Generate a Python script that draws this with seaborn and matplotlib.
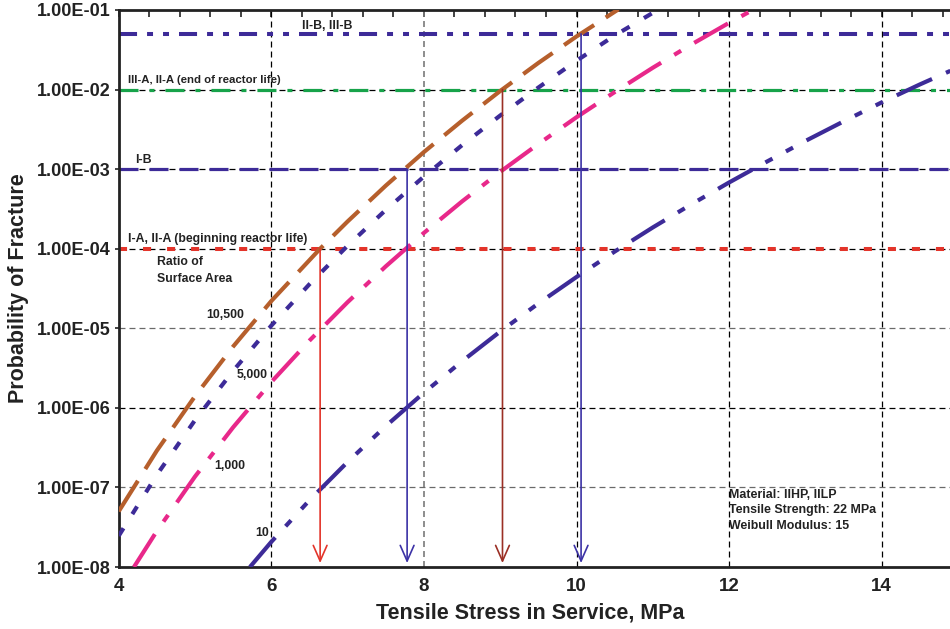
import matplotlib
matplotlib.use("Agg")
import matplotlib.pyplot as plt
import seaborn as sns
import pandas as pd
from matplotlib.ticker import FixedLocator, MultipleLocator, NullLocator, FixedFormatter

# ---------------- data ----------------
stress_10500 = [4.0, 4.5, 5.0, 5.5, 6.0, 6.64, 7.0, 7.5, 8.0, 8.5, 9.0, 9.5, 10.0, 10.55]
prob_10500 = [5.0e-8, 2.9e-7, 1.4e-6, 5.9e-6, 2.2e-5, 1.0e-4, 2.2e-4, 6.2e-4, 1.64e-3,
              4.06e-3, 9.6e-3, 2.16e-2, 4.65e-2, 1.02e-1]

stress_5000 = [4.0, 4.5, 5.0, 5.5, 6.0, 6.5, 7.0, 7.5, 8.0, 8.5, 9.0, 9.5, 10.0, 10.5, 11.1]
prob_5000 = [2.46e-8, 1.44e-7, 7.0e-7, 2.92e-6, 1.08e-5, 3.58e-5, 1.09e-4, 3.07e-4, 8.07e-4,
             2.0e-3, 4.72e-3, 1.06e-2, 2.30e-2, 4.78e-2, 1.05e-1]

stress_1000 = [4.2, 4.5, 5.0, 5.5, 6.0, 6.5, 7.0, 7.5, 8.0, 8.5, 9.0, 9.5, 10.0, 10.5,
               11.0, 11.5, 12.0, 12.35]
prob_1000 = [1.0e-8, 2.83e-8, 1.37e-7, 5.7e-7, 2.11e-6, 7.0e-6, 2.13e-5, 6.0e-5, 1.58e-4,
             3.93e-4, 9.25e-4, 2.07e-3, 4.49e-3, 9.3e-3, 1.88e-2, 3.66e-2, 6.9e-2, 1.05e-1]

stress_10 = [5.72, 6.0, 6.5, 7.0, 7.5, 8.0, 8.5, 9.0, 9.5, 10.0, 10.5, 11.0, 11.5, 12.0,
             12.5, 13.0, 13.5, 14.0, 14.5, 14.9]
prob_10 = [1.0e-8, 2.07e-8, 6.9e-8, 2.09e-7, 5.9e-7, 1.55e-6, 3.85e-6, 9.1e-6, 2.05e-5,
           4.41e-5, 9.2e-5, 1.85e-4, 3.59e-4, 6.8e-4, 1.25e-3, 2.26e-3, 3.98e-3, 6.9e-3,
           1.16e-2, 1.72e-2]

curve_names = ["10,500", "5,000", "1,000", "10"]

ref_levels = [5e-2, 1e-2, 1e-3, 1e-4]
ref_labels = ["II-B, III-B", "III-A, II-A (end of reactor life)", "I-B",
              "I-A, II-A (beginning reactor life)"]

arrow_x = [6.64, 7.78, 9.03, 10.06]
arrow_top = [1e-4, 1e-3, 1e-2, 5e-2]

x_ticks = [4, 6, 8, 10, 12, 14]
y_ticks = [1e-8, 1e-7, 1e-6, 1e-5, 1e-4, 1e-3, 1e-2, 1e-1]
y_tick_labels = ["1.00E-08", "1.00E-07", "1.00E-06", "1.00E-05", "1.00E-04",
                 "1.00E-03", "1.00E-02", "1.00E-01"]
grid_x = [6, 8, 10, 12, 14]
grid_y = [1e-7, 1e-6, 1e-5, 1e-4, 1e-3, 1e-2]

note_lines = ["Material: IIHP, IILP", "Tensile Strength: 22 MPa", "Weibull Modulus: 15"]

# ---------------- style ----------------
sns.set_style("white")
plt.rcParams['font.family'] = ['Liberation Sans', 'DejaVu Sans']
plt.rcParams['font.weight'] = 'bold'
plt.rcParams['lines.scale_dashes'] = False

PURPLE = "#3D2B98"
BROWN = "#B65F2C"
PINK = "#E8288A"
GREEN = "#17A34A"
RED = "#E3342A"
TXT = "#222222"

fig = plt.figure(figsize=(9.5, 6.29), dpi=100)
W, H = 950, 629
L, R, T, B = 118.7, 950, 10, 567
ax = fig.add_axes([L / W, (H - B) / H, (R - L) / W, (B - T) / H])
ax.set_yscale('log')
ax.set_xlim(4, 4 + (R - L) / 76.3)
ax.set_ylim(1e-8, 1e-1)

# grid
for gx in grid_x:
    col = "#7a7a7a" if gx == 8 else "black"
    ax.axvline(gx, color=col, lw=0.9 if gx != 8 else 1.2, ls=(0, (4.3, 2.9)), zorder=1)
for gy in grid_y:
    col = "#6a6a6a" if gy in (1e-5, 1e-7) else "black"
    ax.axhline(gy, color=col, lw=0.9, ls=(0, (4.3, 2.9)), zorder=1)

# reference levels
ref_styles = [
    dict(color=PURPLE, lw=2.9, ls=(0, (13, 7.2, 4.3, 7.2, 4.3, 7.2))),
    dict(color=GREEN, lw=2.3, ls=(0, (13.7, 7.9, 3.6, 7.9))),
    dict(color=PURPLE, lw=2.3, ls=(0, (13.7, 7.9))),
    dict(color=RED, lw=2.9, ls=(0, (5.8, 11.5))),
]
for lev, st in zip(ref_levels, ref_styles):
    ax.axhline(lev, zorder=2, **st)

# curves
curves = [
    (stress_10500, prob_10500, BROWN, (0, (26, 10))),
    (stress_5000, prob_5000, PURPLE, (0, (6.5, 12))),
    (stress_1000, prob_1000, PINK, (0, (28, 11, 5.8, 11))),
    (stress_10, prob_10, PURPLE, (0, (28, 11, 5.8, 11, 5.8, 11))),
]
for (xs, ys, c, ls), name in zip(curves, curve_names):
    df = pd.DataFrame({"stress": xs, "prob": ys})
    sns.lineplot(data=df, x="stress", y="prob", ax=ax, color=c, lw=3.0,
                 linestyle=ls, zorder=3, estimator=None, sort=False)

# arrows
arrow_cols = [RED, "#3C32A6", "#9B2F25", "#3C32A6"]
for xa, ya, c in zip(arrow_x, arrow_top, arrow_cols):
    ax.annotate("", xy=(xa, 1.12e-8), xytext=(xa, ya),
                arrowprops=dict(arrowstyle="->,head_length=0.75,head_width=0.33",
                                color=c, lw=1.2, shrinkA=0, shrinkB=0,
                                mutation_scale=15), zorder=4)

# labels on the chart
fs = 8.8
ax.text(6.40, 0.063, ref_labels[0], fontsize=fs, color=TXT, va='center', ha='left')
ax.text(4.12, 0.0131, ref_labels[1], fontsize=8.2, color=TXT, va='center', ha='left')
ax.text(4.215, 1.30e-3, ref_labels[2], fontsize=fs, color=TXT, va='center', ha='left')
ax.text(4.12, 1.32e-4, ref_labels[3], fontsize=fs, color=TXT, va='center', ha='left')
ax.text(4.50, 6.8e-5, "Ratio of", fontsize=fs, color=TXT, va='center', ha='left')
ax.text(4.50, 4.15e-5, "Surface Area", fontsize=fs, color=TXT, va='center', ha='left')
curve_label_pos = [(5.147, 1.47e-5), (5.54, 2.58e-6), (5.25, 1.86e-7), (5.79, 2.67e-8)]
for name, (lx, ly) in zip(curve_names, curve_label_pos):
    ax.text(lx, ly, name, fontsize=fs, color=TXT, va='center', ha='left')
for line, ny in zip(note_lines, [8.03e-8, 5.2e-8, 3.27e-8]):
    ax.text(12.0, ny, line, fontsize=8.9, color=TXT, va='center', ha='left')

# axes formatting
ax.xaxis.set_major_locator(FixedLocator(x_ticks))
ax.xaxis.set_minor_locator(MultipleLocator(0.4))
ax.yaxis.set_major_locator(FixedLocator(y_ticks))
ax.yaxis.set_major_formatter(FixedFormatter(y_tick_labels))
ax.yaxis.set_minor_locator(NullLocator())
ax.tick_params(axis='x', which='both', bottom=False, top=True, direction='in',
               labelbottom=True, length=5, width=1.2, color='#222', pad=8,
               labelsize=13.5)
ax.tick_params(axis='y', which='major', left=True, direction='out', length=3,
               width=1.2, color='#222', pad=3, labelsize=13)
for lab in ax.get_xticklabels() + ax.get_yticklabels():
    lab.set_fontweight('bold')
    lab.set_color(TXT)

for side in ['left', 'bottom', 'top']:
    ax.spines[side].set_linewidth(2.0)
    ax.spines[side].set_color('#222')
ax.spines['right'].set_visible(False)

ax.set_xlabel("Tensile Stress in Service, MPa", fontsize=15.5, fontweight='bold', color=TXT)
ax.set_ylabel("Probability of Fracture", fontsize=15.5, fontweight='bold', color=TXT)
ax.xaxis.label.set_va('center')
ax.yaxis.label.set_va('center')
ax.xaxis.set_label_coords((530 - L) / (R - L), (B - 613) / (B - T))
ax.yaxis.set_label_coords((19 - L) / (R - L), 0.5)

fig.savefig("out.png", dpi=100)
